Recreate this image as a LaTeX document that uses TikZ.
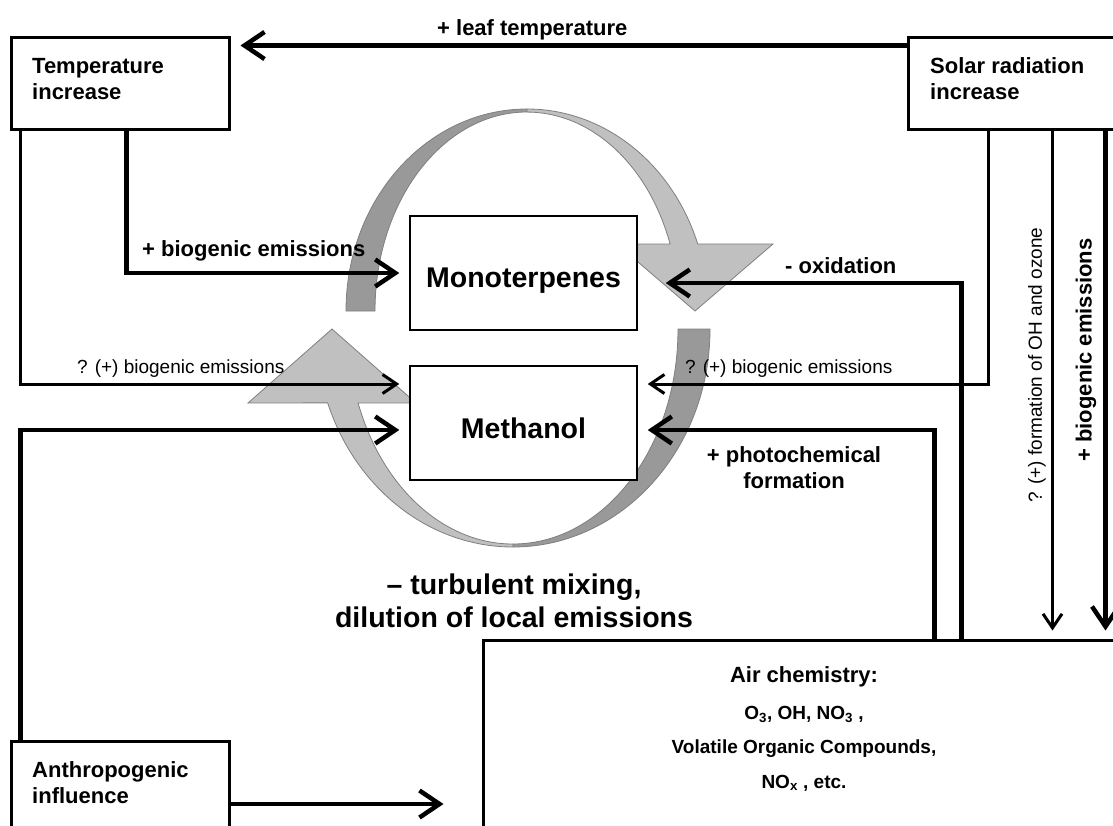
\documentclass[tikz,border=0pt]{standalone}
\usepackage{fontspec}
\setmainfont{Liberation Sans}
\usetikzlibrary{arrows.meta}
\definecolor{dk}{HTML}{999999}
\definecolor{lt}{HTML}{C0C0C0}
\definecolor{edgec}{HTML}{7F7F7F}
\begin{document}
\begin{tikzpicture}[x=1pt,y=-1pt,
  box/.style={draw,line width=3pt,fill=white,inner sep=0pt},
  cbox/.style={draw,line width=1.5pt,fill=white,inner sep=0pt},
  thk/.style={line width=4.5pt,-{Straight Barb[length=20pt,width=27pt]}},
  thn/.style={line width=3pt,-{Straight Barb[length=14pt,width=19pt]}},
  band/.style={draw=edgec,line width=0.8pt},
  lbl/.style={inner sep=0pt,font=\fontsize{22}{26}\selectfont\bfseries},
  big/.style={inner sep=0pt,font=\fontsize{28.5}{33}\selectfont\bfseries},
  sml/.style={inner sep=0pt,font=\fontsize{19}{22}\selectfont},
  chem/.style={inner sep=0pt,font=\fontsize{19}{22}\selectfont\bfseries}
]
\useasboundingbox (0,0) rectangle (1113,825);
\clip (0,0) rectangle (1113,825);

% curved grey arrows
\path[band,fill=dk] (346,311) arc[start angle=180,end angle=90,x radius=181pt,y radius=202pt]
  -- (527,112) arc[start angle=90,end angle=180,x radius=152pt,y radius=199pt] -- cycle;
\path[band,fill=lt] (527,109) arc[start angle=90,end angle=19.4,x radius=181pt,y radius=202pt]
  -- (773,244) -- (695,311) -- (617,244) -- (670.1,244)
  arc[start angle=19.7,end angle=90,x radius=152pt,y radius=199pt] -- cycle;
\path[band,fill=dk] (710,329) arc[start angle=0,end angle=-90,x radius=197pt,y radius=218pt]
  -- (513,544) arc[start angle=-90,end angle=0,x radius=165pt,y radius=215pt] -- cycle;
\path[band,fill=lt] (513,547) arc[start angle=270,end angle=199.8,x radius=197pt,y radius=218pt]
  -- (248,403) -- (332,329) -- (416,403) -- (358.1,402.9)
  arc[start angle=200.1,end angle=270,x radius=165pt,y radius=215pt] -- cycle;

% boxes
\node[box,minimum width=218pt,minimum height=92pt] (temp) at (120,83) {};
\node[box,minimum width=292pt,minimum height=92pt] (solar) at (1054,83) {};
\node[box,minimum width=218pt,minimum height=126pt] (anthro) at (120,804) {};
\node[box,minimum width=717pt,minimum height=260pt] (air) at (841.5,770) {};
\node[cbox,minimum width=227pt,minimum height=114pt] (mono) at (523.5,273) {};
\node[cbox,minimum width=227pt,minimum height=114pt] (meth) at (523.5,423) {};

% connectors
\draw[thk] ([yshift=-10pt]solar.north west) -- ([xshift=10pt,yshift=-10pt]temp.north east);
\draw[thk] ([xshift=117pt]temp.south west) |- ([xshift=-10pt]mono.west);
\draw[thn] ([xshift=11pt]temp.south west) |- ([xshift=-10pt,yshift=39pt]meth.west);
\draw[thk] ([xshift=11pt]anthro.north west) |- ([xshift=-10pt,yshift=-7pt]meth.west);
\draw[thk,shorten >=38pt] (anthro.east) -- (air.west |- anthro.east);
\draw[thk] ([xshift=480pt]air.north west) |- ([xshift=28pt,yshift=-10pt]mono.east);
\draw[thk] ([xshift=453pt]air.north west) |- ([xshift=10pt,yshift=-7pt]meth.east);
\draw[thn] ([xshift=82pt]solar.south west) |- ([xshift=10pt,yshift=39pt]meth.east);
\draw[thn] ([xshift=146pt]solar.south west) -- ([xshift=571pt,yshift=8pt]air.north west);
\draw[thk] ([xshift=199pt]solar.south west) -- ([xshift=624pt,yshift=8pt]air.north west);

% texts
\node[lbl,anchor=north west,align=left] (ttemp) at (32,58.2) {Temperature\\increase};
\node[lbl,anchor=north west,align=left] (tsolar) at (930,57) {Solar radiation\\increase};
\node[lbl,anchor=north west,align=left] (tanthro) at (32,761) {Anthropogenic\\influence};
\node[big,anchor=base] (tmono) at (523.5,287) {Monoterpenes};
\node[big,anchor=base] (tmeth) at (523.5,438) {Methanol};
\node[lbl,anchor=base west] (tleaf) at (437,35) {+ leaf temperature};
\node[lbl,anchor=base west] (tbio) at (142,256) {+ biogenic emissions};
\node[sml,anchor=base west] (tqbl) at (77,373) {? (+) biogenic emissions};
\node[sml,anchor=base west] (tqbr) at (685,373) {? (+) biogenic emissions};
\node[lbl,anchor=base west] (tox) at (785,273) {- oxidation};
\node[lbl,anchor=north,align=center] (tphot) at (794,446) {+ photochemical\\formation};
\node[big,anchor=north,align=center] (tturb) at (514,571) {\strut\smash{– turbulent mixing,}\\dilution of local emissions};
\node[sml,rotate=90] (tform) at (1037,365) {? (+) formation of OH and ozone};
\node[lbl,rotate=90] (tbior) at (1086,350) {+ biogenic emissions};
\node[lbl,anchor=base] (ac1) at (804,682) {Air chemistry:};
\node[chem,anchor=base] (ac2) at (804,719) {O\textsubscript{3}, OH, NO\textsubscript{3} ,};
\node[chem,anchor=base] (ac3) at (804,753) {Volatile Organic Compounds,};
\node[chem,anchor=base] (ac4) at (804,788) {NO\textsubscript{x} , etc.};
\end{tikzpicture}
\end{document}
